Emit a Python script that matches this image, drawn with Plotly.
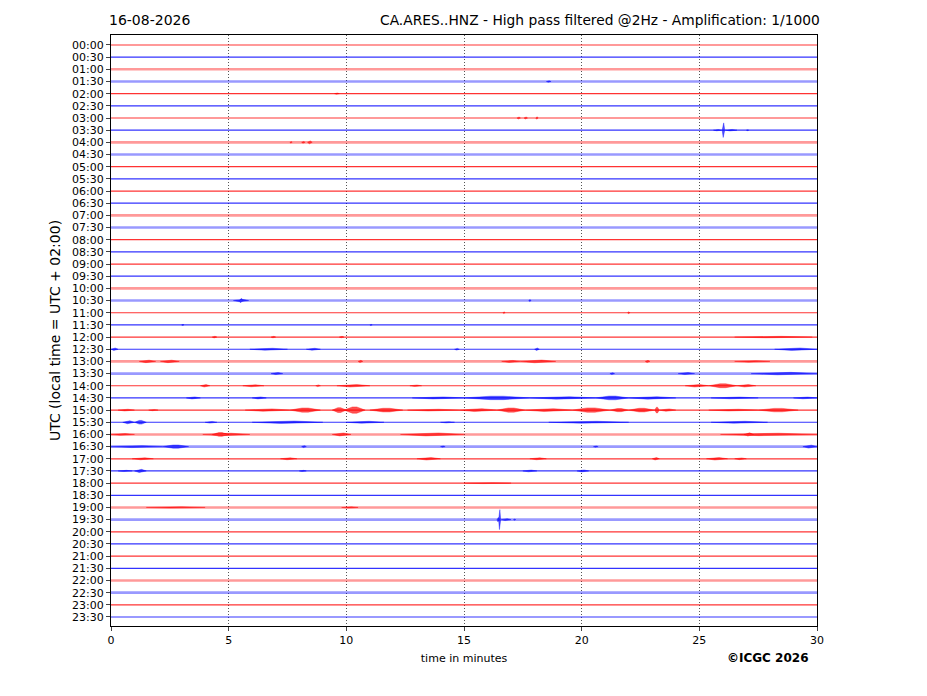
import plotly.graph_objects as go

# helicorder rows, 30 min each
row_labels = ["00:00", "00:30", "01:00", "01:30", "02:00", "02:30", "03:00", "03:30",
              "04:00", "04:30", "05:00", "05:30", "06:00", "06:30", "07:00", "07:30",
              "08:00", "08:30", "09:00", "09:30", "10:00", "10:30", "11:00", "11:30",
              "12:00", "12:30", "13:00", "13:30", "14:00", "14:30", "15:00", "15:30",
              "16:00", "16:30", "17:00", "17:30", "18:00", "18:30", "19:00", "19:30",
              "20:00", "20:30", "21:00", "21:30", "22:00", "22:30", "23:00", "23:30"]
trace_colors = ["red", "blue"]
# rows drawn pale and wider (noisier blocks)
pale_rows = [2, 3, 8, 9, 14, 15, 20, 21, 26, 27, 32, 33, 38, 39, 44, 45]

# bursts: (row, start min, end min, half amplitude in row units)
bursts = [
    (3, 18.5, 18.7, 0.06), (4, 9.5, 9.7, 0.05),
    (6, 17.25, 17.4, 0.08), (6, 17.55, 17.7, 0.08), (6, 18.05, 18.15, 0.1),
    (7, 25.6, 25.95, 0.05), (7, 25.97, 26.08, 0.6), (7, 26.1, 26.6, 0.06), (7, 27.0, 27.1, 0.04),
    (8, 7.6, 7.7, 0.06), (8, 8.1, 8.25, 0.07), (8, 8.35, 8.55, 0.12),
    (21, 5.2, 5.85, 0.1), (21, 5.45, 5.6, 0.18), (21, 17.75, 17.85, 0.08),
    (22, 16.65, 16.75, 0.07), (22, 21.95, 22.05, 0.08),
    (23, 3.0, 3.1, 0.05), (23, 11.0, 11.1, 0.04),
    (24, 4.3, 4.5, 0.07), (24, 6.8, 7.0, 0.06), (24, 9.7, 9.9, 0.06), (24, 26.5, 29.8, 0.06),
    (25, 0.0, 0.3, 0.1), (25, 5.9, 7.5, 0.08), (25, 8.3, 8.9, 0.08), (25, 14.6, 14.8, 0.07),
    (25, 18.0, 18.2, 0.1), (25, 28.2, 30.0, 0.1),
    (26, 1.2, 1.9, 0.1), (26, 2.1, 2.9, 0.1), (26, 10.5, 10.7, 0.09), (26, 16.6, 17.4, 0.08),
    (26, 17.4, 18.9, 0.11), (26, 22.7, 22.9, 0.09), (26, 26.5, 28.0, 0.06),
    (27, 6.8, 7.3, 0.08), (27, 21.2, 21.4, 0.07), (27, 24.1, 24.8, 0.08), (27, 27.2, 30.0, 0.1),
    (28, 3.8, 4.2, 0.1), (28, 5.6, 6.5, 0.08), (28, 8.7, 8.9, 0.07), (28, 9.6, 11.0, 0.1),
    (28, 12.7, 13.2, 0.06), (28, 24.4, 25.4, 0.1), (28, 25.4, 26.6, 0.16), (28, 26.6, 27.4, 0.1),
    (29, 3.2, 3.8, 0.08), (29, 6.0, 6.6, 0.08), (29, 12.8, 15.0, 0.08), (29, 15.0, 17.8, 0.14),
    (29, 17.8, 20.6, 0.1), (29, 20.6, 22.0, 0.15), (29, 22.0, 24.0, 0.1), (29, 25.5, 27.5, 0.07),
    (29, 29.0, 30.0, 0.07),
    (30, 0.3, 1.0, 0.07), (30, 1.6, 2.0, 0.05), (30, 5.7, 7.6, 0.1), (30, 7.6, 8.9, 0.17),
    (30, 9.4, 10.0, 0.2), (30, 9.9, 10.8, 0.26), (30, 11.0, 12.4, 0.15), (30, 12.6, 14.8, 0.07),
    (30, 14.8, 16.4, 0.12), (30, 16.4, 17.6, 0.17), (30, 17.6, 19.6, 0.12), (30, 19.6, 21.2, 0.18),
    (30, 21.2, 22.0, 0.13), (30, 22.0, 23.1, 0.15), (30, 23.1, 23.3, 0.24), (30, 23.3, 24.0, 0.1),
    (30, 25.4, 27.5, 0.07), (30, 27.5, 29.2, 0.14),
    (31, 0.5, 1.0, 0.12), (31, 1.0, 1.5, 0.15), (31, 4.0, 4.5, 0.07), (31, 6.0, 9.0, 0.1),
    (31, 10.0, 11.6, 0.08), (31, 14.0, 14.6, 0.05), (31, 18.6, 22.0, 0.08), (31, 25.5, 27.9, 0.08),
    (32, 0.0, 1.0, 0.07), (32, 3.9, 5.9, 0.1), (32, 4.3, 5.0, 0.15), (32, 9.4, 10.2, 0.12),
    (32, 12.3, 15.0, 0.12), (32, 25.9, 30.0, 0.1), (32, 26.9, 27.3, 0.13),
    (33, 0.0, 2.2, 0.08), (33, 2.2, 3.3, 0.13), (33, 8.1, 8.3, 0.08), (33, 14.0, 14.2, 0.05),
    (33, 20.5, 20.7, 0.05), (33, 29.4, 30.0, 0.12),
    (34, 0.9, 1.8, 0.08), (34, 7.2, 7.9, 0.08), (34, 13.0, 14.0, 0.1), (34, 17.8, 18.5, 0.08),
    (34, 23.0, 23.3, 0.1), (34, 25.3, 26.2, 0.1), (34, 26.5, 27.0, 0.07),
    (35, 0.3, 0.9, 0.05), (35, 1.0, 1.5, 0.13), (35, 8.0, 8.3, 0.05), (35, 17.5, 18.1, 0.07),
    (35, 19.8, 20.3, 0.08),
    (36, 15.0, 17.0, 0.04),
    (38, 1.5, 4.0, 0.05), (38, 9.8, 10.5, 0.05),
    (39, 16.4, 16.5, 0.18), (39, 16.47, 16.56, 0.82), (39, 16.58, 17.0, 0.08), (39, 17.1, 17.2, 0.05),
]

font = "DejaVu Sans"
fig = go.Figure()

for i, lab in enumerate(row_labels):
    col = trace_colors[i % 2]
    pale = i in pale_rows
    rgb = "255,0,0" if col == "red" else "0,0,255"
    # base trace line
    fig.add_trace(go.Scatter(
        x=[0, 30], y=[i, i], mode="lines", hoverinfo="skip", showlegend=False,
        line=dict(color=f"rgba({rgb},{0.4 if pale else 0.8})", width=2.6 if pale else 1.2),
    ))
    # bursts of this row as filled envelopes
    xs, ys = [], []
    for r, s, e, a in bursts:
        if r != i:
            continue
        q = (e - s) * 0.4
        xs += [s, s + q, e - q, e, e - q, s + q, s, None]
        ys += [i, i - a, i - a, i, i + a, i + a, i, None]
    if xs:
        fig.add_trace(go.Scatter(
            x=xs, y=ys, mode="lines", fill="toself", hoverinfo="skip", showlegend=False,
            line=dict(color=f"rgba({rgb},0.7)", width=0.5),
            fillcolor=f"rgba({rgb},0.68)",
        ))

# page body has an 8 px margin, so the margins are shifted to compensate
fig.update_layout(
    width=927, height=696,
    margin=dict(l=103, r=118, t=27, b=78),
    plot_bgcolor="white", paper_bgcolor="white",
    font=dict(family=font, size=11, color="black"),
    annotations=[
        dict(text="16-08-2026", x=-0.006, y=1.026, xref="paper", yref="paper",
             xanchor="left", yanchor="middle", showarrow=False, font=dict(size=14)),
        dict(text="CA.ARES..HNZ - High pass filtered @2Hz - Amplification: 1/1000",
             x=1.007, y=1.026, xref="paper", yref="paper",
             xanchor="right", yanchor="middle", showarrow=False, font=dict(size=13.8)),
        dict(text="<b>©ICGC 2026</b>", x=0.992, y=-0.054, xref="paper", yref="paper",
             xanchor="right", yanchor="middle", showarrow=False,
             font=dict(family=font, size=12)),
    ],
)
fig.update_xaxes(
    range=[0, 30], tickvals=[0, 5, 10, 15, 20, 25, 30], ticks="outside", ticklen=4,
    tickfont=dict(size=11), showline=True, mirror=True, linecolor="black", linewidth=1,
    showgrid=True, gridcolor="#555555", griddash="1px,2px", gridwidth=1, zeroline=False,
    title=dict(text="time in minutes", font=dict(size=11), standoff=8),
)
fig.update_yaxes(
    range=[47.74, -0.82], tickvals=list(range(len(row_labels))), ticktext=row_labels,
    ticks="outside", ticklen=4, tickfont=dict(size=11), showline=True, mirror=True,
    linecolor="black", linewidth=1, showgrid=False, zeroline=False,
    title=dict(text="UTC (local time = UTC + 02:00)", font=dict(size=14), standoff=8),
)

fig.write_html("out.html")
